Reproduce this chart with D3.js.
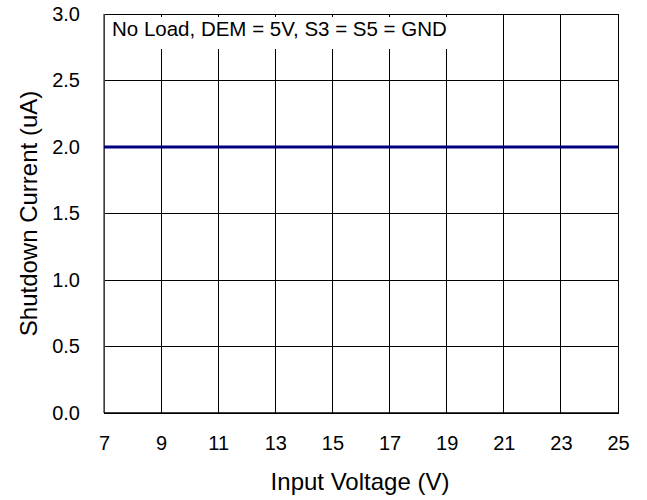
<!DOCTYPE html>
<html>
<head>
<meta charset="utf-8">
<script src="https://cdn.jsdelivr.net/npm/d3@7"></script>
<style>
  body { margin: 0; background: #fff; }
  text { font-family: "Liberation Sans", Arial, sans-serif; fill: #000; }
</style>
</head>
<body>
<svg id="chart" width="647" height="500"></svg>
<script>
var voltage = [7, 9, 11, 13, 15, 17, 19, 21, 23, 25];
var shutdownCurrent = [2.0, 2.0, 2.0, 2.0, 2.0, 2.0, 2.0, 2.0, 2.0, 2.0];
var xTicks = [7, 9, 11, 13, 15, 17, 19, 21, 23, 25];
var yTicks = [0, 0.5, 1.0, 1.5, 2.0, 2.5, 3.0];
var note = "No Load, DEM = 5V, S3 = S5 = GND";

var margin = {top: 14, right: 29, bottom: 87, left: 104};
var width = 647 - margin.left - margin.right;
var height = 500 - margin.top - margin.bottom;

var svg = d3.select("#chart");
var g = svg.append("g").attr("transform", `translate(${margin.left},${margin.top})`);

var x = d3.scaleLinear().domain([7, 25]).range([0, width]);
var y = d3.scaleLinear().domain([0, 3]).range([height, 0]);

// gridlines
g.append("g").selectAll("line").data(xTicks.slice(1, -1)).enter().append("line")
    .attr("x1", d => x(d)).attr("x2", d => x(d))
    .attr("y1", 0).attr("y2", height)
    .attr("stroke", "#000").attr("stroke-width", 1).attr("shape-rendering", "crispEdges");
g.append("g").selectAll("line").data(yTicks.slice(1, -1)).enter().append("line")
    .attr("x1", 0).attr("x2", width)
    .attr("y1", d => y(d)).attr("y2", d => y(d))
    .attr("stroke", "#000").attr("stroke-width", 1).attr("shape-rendering", "crispEdges");

// frame
g.append("rect").attr("x", 0).attr("y", 0).attr("width", width).attr("height", height)
    .attr("fill", "none").attr("stroke", "#000").attr("stroke-width", 1).attr("shape-rendering", "crispEdges");
g.append("line").attr("x1", 0).attr("x2", 0).attr("y1", 0).attr("y2", height)
    .attr("stroke", "#555").attr("stroke-width", 1.5);
g.append("line").attr("x1", 0).attr("x2", width).attr("y1", height).attr("y2", height)
    .attr("stroke", "#000").attr("stroke-width", 1.5);

// axes labels
var xAxis = d3.axisBottom(x).tickValues(xTicks).tickSize(0).tickPadding(23).tickFormat(d3.format("d"));
var yAxis = d3.axisLeft(y).tickValues(yTicks).tickSize(0).tickPadding(24).tickFormat(d3.format(".1f"));
g.append("g").attr("class", "x-axis").attr("transform", `translate(0,${height})`).call(xAxis)
    .call(s => s.select(".domain").remove())
    .selectAll("text").style("font-size", "20px");
g.append("g").attr("class", "y-axis").call(yAxis)
    .call(s => s.select(".domain").remove())
    .selectAll("text").style("font-size", "20px");

// annotation
var noteBox = g.append("rect").attr("fill", "#fff");
var noteText = g.append("text").attr("x", 8).attr("y", 22)
    .style("font-size", "20.5px").text(note);
var bb = noteText.node().getBBox();
noteBox.attr("x", 1).attr("y", 3).attr("width", bb.width + 10).attr("height", 32);

// series
var line = d3.line().x((d, i) => x(voltage[i])).y(d => y(d));
g.append("path").datum(shutdownCurrent)
    .attr("d", line)
    .attr("fill", "none").attr("stroke", "#000080").attr("stroke-width", 3);

// titles
svg.append("text").attr("x", 360).attr("y", 490)
    .attr("text-anchor", "middle").style("font-size", "24px").text("Input Voltage (V)");
svg.append("text").attr("transform", `translate(37,${margin.top + height / 2}) rotate(-90)`)
    .attr("text-anchor", "middle").style("font-size", "24px").text("Shutdown Current (uA)");
</script>
</body>
</html>
